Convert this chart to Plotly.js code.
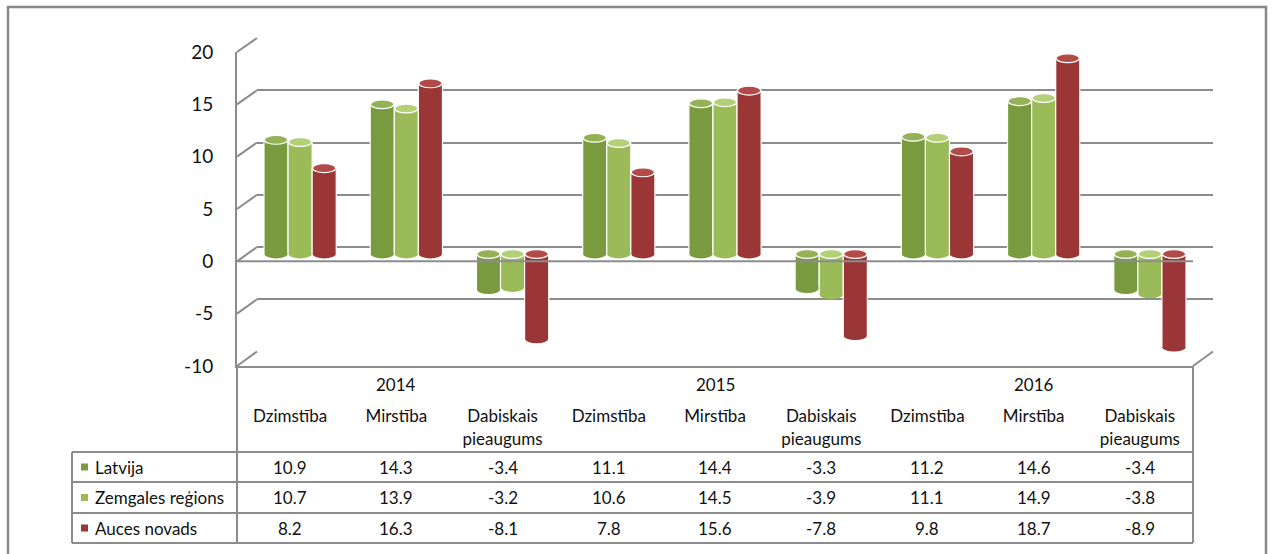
<!DOCTYPE html>
<html>
<head>
<meta charset="utf-8">
<script src="https://cdn.plot.ly/plotly-3.0.1.min.js"></script>
<style>
html,body{margin:0;padding:0;background:#fff;}
#chart{width:1272px;height:554px;}
</style>
</head>
<body>
<div id="chart"></div>
<script>
// ---- data ----
const years = ['2014', '2015', '2016'];
const measures = ['Dzimstība', 'Mirstība', 'Dabiskais<br>pieaugums'];
const seriesNames = ['Latvija', 'Zemgales reģions', 'Auces novads'];
const latvija = [10.9, 14.3, -3.4, 11.1, 14.4, -3.3, 11.2, 14.6, -3.4];
const zemgale = [10.7, 13.9, -3.2, 10.6, 14.5, -3.9, 11.1, 14.9, -3.8];
const auce = [8.2, 16.3, -8.1, 7.8, 15.6, -7.8, 9.8, 18.7, -8.9];
const yTicks = [-10, -5, 0, 5, 10, 15, 20];

// ---- styling ----
const colors = ['#7a9a3f', '#9bbb59', '#9b3636'];
const topColors = ['#94b255', '#b3cf78', '#b24a48'];
const gridColor = '#8c8c8c';
const textColor = '#111111';
const FONT = 'Lato, "Open Sans", sans-serif';

// layout frame (pixels)
const L = 237, T = 38, PW = 976, PH = 328;
const PX = px => (px - L) / PW;
const PY = py => (T + PH - py) / PH;

const cats = [];
years.forEach(() => measures.forEach(m => cats.push(m)));
const idx = cats.map((_, i) => i);
const allSeries = [latvija, zemgale, auce];

const backDom = [PY(351.5), 1];
const barDom = [PY(358.7), PY(44.6)];
const frontDom = [0, PY(52)];
const backFrac = v => backDom[0] + (backDom[1] - backDom[0]) * (v + 10) / 30;
const frontFrac = v => frontDom[0] + (frontDom[1] - frontDom[0]) * (v + 10) / 30;

const BARGAP = 0.32;
const traces = [];
// dummy traces so the back wall and front axes exist
traces.push({type: 'scatter', x: [null], y: [null], xaxis: 'x', yaxis: 'y', showlegend: false, hoverinfo: 'skip'});
allSeries.forEach((s, k) => {
  traces.push({
    type: 'bar', x: idx, y: s, name: seriesNames[k], xaxis: 'x2', yaxis: 'y2',
    marker: {color: colors[k], line: {color: '#ffffff', width: 1.2}},
    showlegend: false, hoverinfo: 'y'
  });
});
traces.push({type: 'scatter', x: idx, y: idx.map(() => null), xaxis: 'x3', yaxis: 'y3', showlegend: false, hoverinfo: 'skip'});

const shapes = [];
const annotations = [];
const line = {color: gridColor, width: 2};

// cylinder caps (ellipses) drawn through bar axes
const groupW = 1 - BARGAP, barW = groupW / 3;
const capH = 0.42;
allSeries.forEach((s, k) => {
  s.forEach((v, i) => {
    const xc = i - groupW / 2 + barW * (k + 0.5);
    const x0 = xc - barW / 2 + 0.004, x1 = xc + barW / 2 - 0.004;
    // bottom round end
    shapes.push({type: 'circle', xref: 'x2', yref: 'y2', x0, x1,
      y0: Math.min(v, 0) - capH, y1: Math.min(v, 0) + capH,
      fillcolor: colors[k], line: {color: colors[k], width: 0}, layer: 'above'});
    // top cap
    shapes.push({type: 'circle', xref: 'x2', yref: 'y2', x0, x1,
      y0: Math.max(v, 0) - capH, y1: Math.max(v, 0) + capH,
      fillcolor: topColors[k], line: {color: '#ffffff', width: 1.2}, layer: 'above'});
  });
});

// slanted depth segments on the left
yTicks.forEach(v => {
  shapes.push({type: 'line', xref: 'paper', yref: 'paper',
    x0: PX(237), y0: frontFrac(v), x1: PX(257), y1: backFrac(v), line, layer: 'below'});
});
// right slant at floor
shapes.push({type: 'line', xref: 'paper', yref: 'paper',
  x0: PX(1193), y0: frontFrac(-10), x1: PX(1213), y1: backFrac(-10), line, layer: 'below'});
// front zero line
shapes.push({type: 'line', xref: 'x3 domain', yref: 'y3', x0: 0, x1: 1, y0: 0, y1: 0,
  line, layer: 'above'});

// data table frame
const rowY = [452, 482, 513, 543];
const tableLine = {color: gridColor, width: 2};
rowY.forEach(py => shapes.push({type: 'line', xref: 'paper', yref: 'paper',
  x0: PX(72), x1: PX(1193), y0: PY(py), y1: PY(py), line: tableLine}));
shapes.push({type: 'line', xref: 'paper', yref: 'paper', x0: PX(72), x1: PX(72), y0: PY(452), y1: PY(543), line: tableLine});
shapes.push({type: 'line', xref: 'paper', yref: 'paper', x0: PX(237), x1: PX(237), y0: PY(366), y1: PY(543), line: tableLine});
shapes.push({type: 'line', xref: 'paper', yref: 'paper', x0: PX(1193), x1: PX(1193), y0: PY(366), y1: PY(543), line: tableLine});
// outer chart border
shapes.push({type: 'rect', xref: 'paper', yref: 'paper', x0: PX(8), x1: PX(1266), y0: PY(7), y1: PY(575),
  line: {color: '#888888', width: 2.5}, fillcolor: 'rgba(0,0,0,0)'});

// legend keys + names
seriesNames.forEach((n, k) => {
  const cy = (rowY[k] + rowY[k + 1]) / 2;
  shapes.push({type: 'rect', xref: 'paper', yref: 'paper', x0: PX(81), x1: PX(88), y0: PY(cy - 3.5), y1: PY(cy + 3.5),
    fillcolor: colors[k], line: {width: 0}});
  annotations.push({xref: 'paper', yref: 'paper', x: PX(93), y: PY(cy), xanchor: 'left', yanchor: 'middle',
    text: n, showarrow: false, font: {family: FONT, size: 17, color: textColor}});
  allSeries[k].forEach((v, i) => {
    annotations.push({xref: 'x3', yref: 'paper', x: i, y: PY(cy), xanchor: 'center', yanchor: 'middle',
      text: v.toFixed(1), showarrow: false, font: {family: FONT, size: 17, color: textColor}});
  });
});
// year labels
years.forEach((yr, j) => {
  annotations.push({xref: 'x3', yref: 'paper', x: j * measures.length + 1, y: PY(384), xanchor: 'center', yanchor: 'middle',
    text: yr, showarrow: false, font: {family: FONT, size: 17, color: textColor}});
});

const layout = {
  width: 1272, height: 554,
  margin: {l: 237, r: 1272 - 1213, t: 38, b: 554 - 366, pad: 0},
  paper_bgcolor: '#ffffff', plot_bgcolor: 'rgba(0,0,0,0)',
  showlegend: false,
  barmode: 'group', bargap: BARGAP, bargroupgap: 0,
  font: {family: FONT, size: 17, color: textColor},
  xaxis: {domain: [PX(257), 1], range: [0, 1], visible: false, fixedrange: true},
  yaxis: {domain: backDom, range: [-10, 20], anchor: 'x', tickvals: yTicks, showticklabels: false,
    showgrid: true, gridcolor: gridColor, gridwidth: 2, zeroline: false, showline: false, ticks: '', fixedrange: true},
  xaxis2: {domain: [PX(247), PX(1203)], range: [-0.5, cats.length - 0.5], anchor: 'y2', visible: false, fixedrange: true},
  yaxis2: {domain: barDom, range: [-10, 20], anchor: 'x2', visible: false, fixedrange: true},
  xaxis3: {domain: [0, PX(1193)], range: [-0.5, cats.length - 0.5], anchor: 'y3', tickmode: 'array', tickvals: idx, ticktext: cats,
    showgrid: false, zeroline: false, showline: true, linecolor: gridColor, linewidth: 2, ticks: '',
    ticklabelstandoff: 34, tickfont: {family: FONT, size: 17, color: textColor}, fixedrange: true},
  yaxis3: {domain: frontDom, range: [-10, 20], anchor: 'x3', tickvals: yTicks, ticktext: yTicks.map(String),
    showgrid: false, zeroline: false, showline: true, linecolor: gridColor, linewidth: 2, ticks: '',
    ticklabelstandoff: 18, tickfont: {family: FONT, size: 19, color: textColor}, fixedrange: true},
  shapes, annotations
};

Plotly.newPlot('chart', traces, layout, {displayModeBar: false, staticPlot: true});
</script>
</body>
</html>
